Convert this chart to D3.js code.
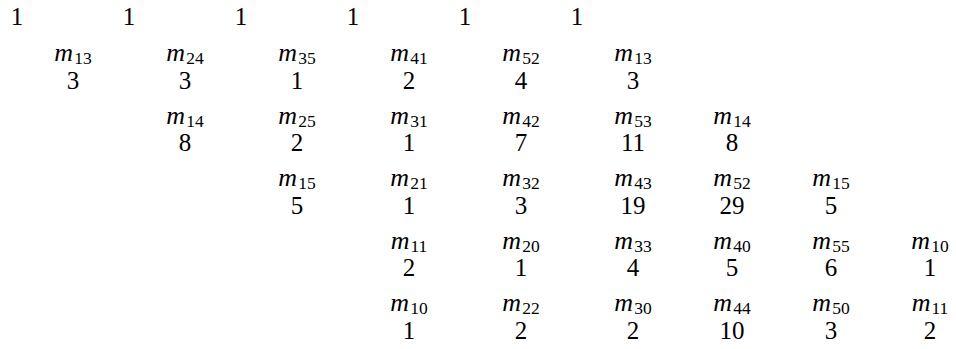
<!DOCTYPE html>
<html>
<head>
<meta charset="utf-8">
<script src="https://cdn.jsdelivr.net/npm/d3@7"></script>
<style>
  html, body { margin: 0; padding: 0; background: #fff; }
  svg text { font-family: "Liberation Serif", "DejaVu Serif", serif; fill: #000; }
</style>
</head>
<body>
<div id="chart"></div>
<script>
'use strict';

// top row of ones
const topOnes = [1, 1, 1, 1, 1, 1];

// first column used by each row of entries
const rowStart = [1, 2, 3, 4, 4];

// subscripts of m for each row
const subscripts = [
    ['13', '24', '35', '41', '52', '13'],
    ['14', '25', '31', '42', '53', '14'],
    ['15', '21', '32', '43', '52', '15'],
    ['11', '20', '33', '40', '55', '10'],
    ['10', '22', '30', '44', '50', '11']
];

// numbers under each m
const counts = [
    [3, 3, 1, 2, 4, 3],
    [8, 2, 1, 7, 11, 8],
    [5, 1, 3, 19, 29, 5],
    [2, 1, 4, 5, 6, 1],
    [1, 2, 2, 10, 3, 2]
];

const width = 956, height = 349;
const fontSize = 25;

let svg = d3.select('#chart').append('svg')
    .attr('width', width)
    .attr('height', height);

// column centres: wider spacing on the left part, tighter on the right
let xScale = d3.scaleLinear().domain([1, 6, 9]).range([73, 633, 930]);
// baseline of the m row for each entry row
let yScale = d3.scaleLinear().domain([1, 5]).range([61, 311]);
let numOffset = 27.5;

svg.append('g').selectAll('text')
    .data(topOnes)
    .enter()
    .append('text')
    .attr('x', (d, i) => xScale(i + 0.5))
    .attr('y', 25)
    .attr('text-anchor', 'middle')
    .attr('font-size', fontSize)
    .text(d => d);

let cells = [];
subscripts.forEach((row, r) => {
    row.forEach((s, k) => {
        cells.push({row: r + 1, col: rowStart[r] + k, sub: s, value: counts[r][k]});
    });
});

let labels = svg.append('g').selectAll('text')
    .data(cells)
    .enter()
    .append('text')
    .attr('x', d => xScale(d.col))
    .attr('y', d => yScale(d.row))
    .attr('text-anchor', 'middle')
    .attr('font-size', fontSize);

labels.append('tspan')
    .attr('font-style', 'italic')
    .attr('font-size', fontSize + 1)
    .attr('letter-spacing', 1)
    .text('m');

labels.append('tspan')
    .attr('font-size', fontSize * 0.7)
    .attr('dy', 3)
    .text(d => d.sub);

svg.append('g').selectAll('text')
    .data(cells)
    .enter()
    .append('text')
    .attr('x', d => xScale(d.col))
    .attr('y', d => yScale(d.row) + numOffset)
    .attr('text-anchor', 'middle')
    .attr('font-size', fontSize)
    .text(d => d.value);
</script>
</body>
</html>
